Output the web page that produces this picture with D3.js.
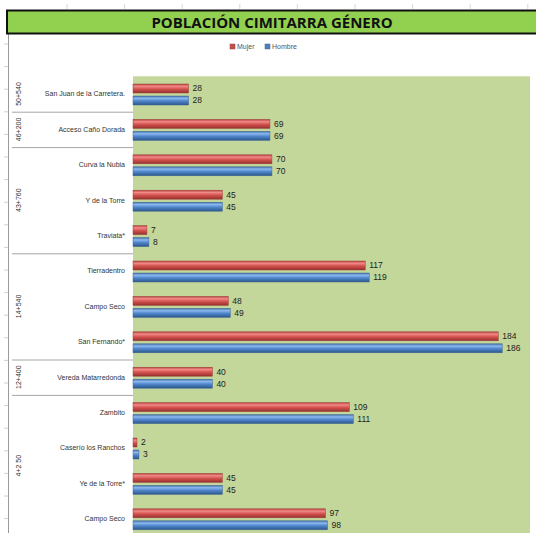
<!DOCTYPE html>
<html>
<head>
<meta charset="utf-8">
<script src="https://cdn.jsdelivr.net/npm/d3@7"></script>
<style>
  body { margin: 0; background: #fff; }
  svg { display: block; font-family: "Liberation Sans", Arial, sans-serif; }
</style>
</head>
<body>
<svg id="chart" width="536" height="533"></svg>
<script>
// data
const categories = ["San Juan de la Carretera.", "Acceso Caño Dorada", "Curva la Nubia", "Y de la Torre",
    "Traviata*", "Tierradentro", "Campo Seco", "San Fernando*", "Vereda Matarredonda", "Zambito",
    "Caserío los Ranchos", "Ye de la Torre*", "Campo Seco "];
const mujer  = [28, 69, 70, 45, 7, 117, 48, 184, 40, 109, 2, 45, 97];
const hombre = [28, 69, 70, 45, 8, 119, 49, 186, 40, 111, 3, 45, 98];
const seriesNames = ["Mujer", "Hombre"];
const groupNames = ["50+540", "46+200", "43+760", "14+540", "12+400", "4+2 50"];
const groupSizes = [1, 1, 3, 3, 1, 4];

const svg = d3.select("#chart");
const plotLeft = 133, plotRight = 530, plotTop = 76.3, band = 35.4;

// excel cell marks behind chart
const topTicks = d3.range(67, 536, 57.6);
svg.selectAll(".ct").data(topTicks).enter().append("line")
    .attr("x1", d => d).attr("x2", d => d).attr("y1", 4).attr("y2", 9)
    .attr("stroke", "#d8d8d8");
svg.selectAll(".rt").data(d3.range(44, 533, 22.6)).enter().append("line")
    .attr("x1", 4).attr("x2", 8).attr("y1", d => d).attr("y2", d => d)
    .attr("stroke", "#d0d0d0");

// chart frame left line
svg.append("line").attr("x1", 8.5).attr("x2", 8.5).attr("y1", 34).attr("y2", 533)
    .attr("stroke", "#9a9a9a").attr("stroke-width", 1);

// title bar
svg.append("rect").attr("x", 7).attr("y", 10.5).attr("width", 540).attr("height", 23)
    .attr("fill", "#92D050").attr("stroke", "#111").attr("stroke-width", 2);
svg.append("text").attr("x", 272).attr("y", 28).attr("text-anchor", "middle")
    .attr("font-family", "'Open Sans', sans-serif")
    .attr("font-size", 15).attr("font-weight", "bold").attr("fill", "#111")
    .text("POBLACIÓN CIMITARRA GÉNERO");

// gradients
const defs = svg.append("defs");
function grad(id, stops) {
    const g = defs.append("linearGradient").attr("id", id)
        .attr("x1", 0).attr("x2", 0).attr("y1", 0).attr("y2", 1);
    stops.forEach(s => g.append("stop").attr("offset", s[0]).attr("stop-color", s[1]));
}
grad("gMujer", [[0, "#b9403d"], [0.25, "#f08a87"], [0.55, "#d4524f"], [1, "#96302d"]]);
grad("gHombre", [[0, "#3f6fa9"], [0.25, "#8cb8ee"], [0.55, "#4f86cc"], [1, "#2c5689"]]);
const colors = { Mujer: "#C0504D", Hombre: "#4F81BD" };

// plot area
const nRows = categories.length;
svg.append("rect").attr("x", plotLeft).attr("y", plotTop)
    .attr("width", plotRight - plotLeft).attr("height", band * nRows)
    .attr("fill", "#C4D79B");

const x = d3.scaleLinear().domain([0, 200]).range([plotLeft, plotRight]);
const y = d3.scaleBand().domain(d3.range(nRows)).range([plotTop, plotTop + band * nRows]);
const ySub = d3.scaleBand().domain(seriesNames).range([-10, 11]).paddingInner(0.25);

const rows = categories.map((c, i) => ({ i, name: c, Mujer: mujer[i], Hombre: hombre[i] }));

const rowG = svg.selectAll(".row").data(rows).enter().append("g")
    .attr("transform", d => "translate(0," + (y(d.i) + y.bandwidth() / 2) + ")");

rowG.append("text")
    .attr("x", 125).attr("y", 0).attr("dy", "0.35em").attr("text-anchor", "end")
    .attr("font-size", 7).attr("fill", "#333")
    .text(d => d.name.trim());

seriesNames.forEach(s => {
    rowG.append("rect")
        .attr("x", x(0)).attr("y", ySub(s))
        .attr("width", d => x(d[s]) - x(0)).attr("height", ySub.bandwidth())
        .attr("fill", "url(#g" + s + ")")
        .attr("stroke", d3.color(colors[s]).darker(0.6)).attr("stroke-width", 0.5);
    rowG.append("text")
        .attr("x", d => x(d[s]) + 4).attr("y", ySub(s) + ySub.bandwidth() / 2)
        .attr("dy", "0.35em").attr("font-size", 8.5).attr("fill", "#222")
        .text(d => d[s]);
});

// group separators and labels
let start = 0;
const groups = groupNames.map((g, k) => {
    const o = { name: g, start, end: start + groupSizes[k] };
    start += groupSizes[k];
    return o;
});
svg.selectAll(".sep").data(groups.slice(0, -1)).enter().append("line")
    .attr("x1", 12).attr("x2", plotLeft)
    .attr("y1", d => y(d.end) + 0.5).attr("y2", d => y(d.end) + 0.5)
    .attr("stroke", "#a6a6a6").attr("stroke-width", 1);
svg.selectAll(".gl").data(groups).enter().append("text")
    .attr("transform", d => "translate(21," + ((y(d.start) + y(d.end - 1) + band) / 2) + ") rotate(-90)")
    .attr("text-anchor", "middle").attr("font-size", 7).attr("fill", "#333")
    .text(d => d.name);

// legend
const legend = svg.append("g").attr("transform", "translate(230,47)");
const lx = [0, 35];
seriesNames.forEach((s, k) => {
    legend.append("rect").attr("x", lx[k]).attr("y", -3).attr("width", 5).attr("height", 5)
        .attr("fill", colors[s]).attr("stroke", d3.color(colors[s]).darker(0.6)).attr("stroke-width", 0.5);
    legend.append("text").attr("x", lx[k] + 7).attr("y", 0).attr("dy", "0.3em")
        .attr("font-size", 7).attr("fill", "#555").text(s);
});
</script>
</body>
</html>
